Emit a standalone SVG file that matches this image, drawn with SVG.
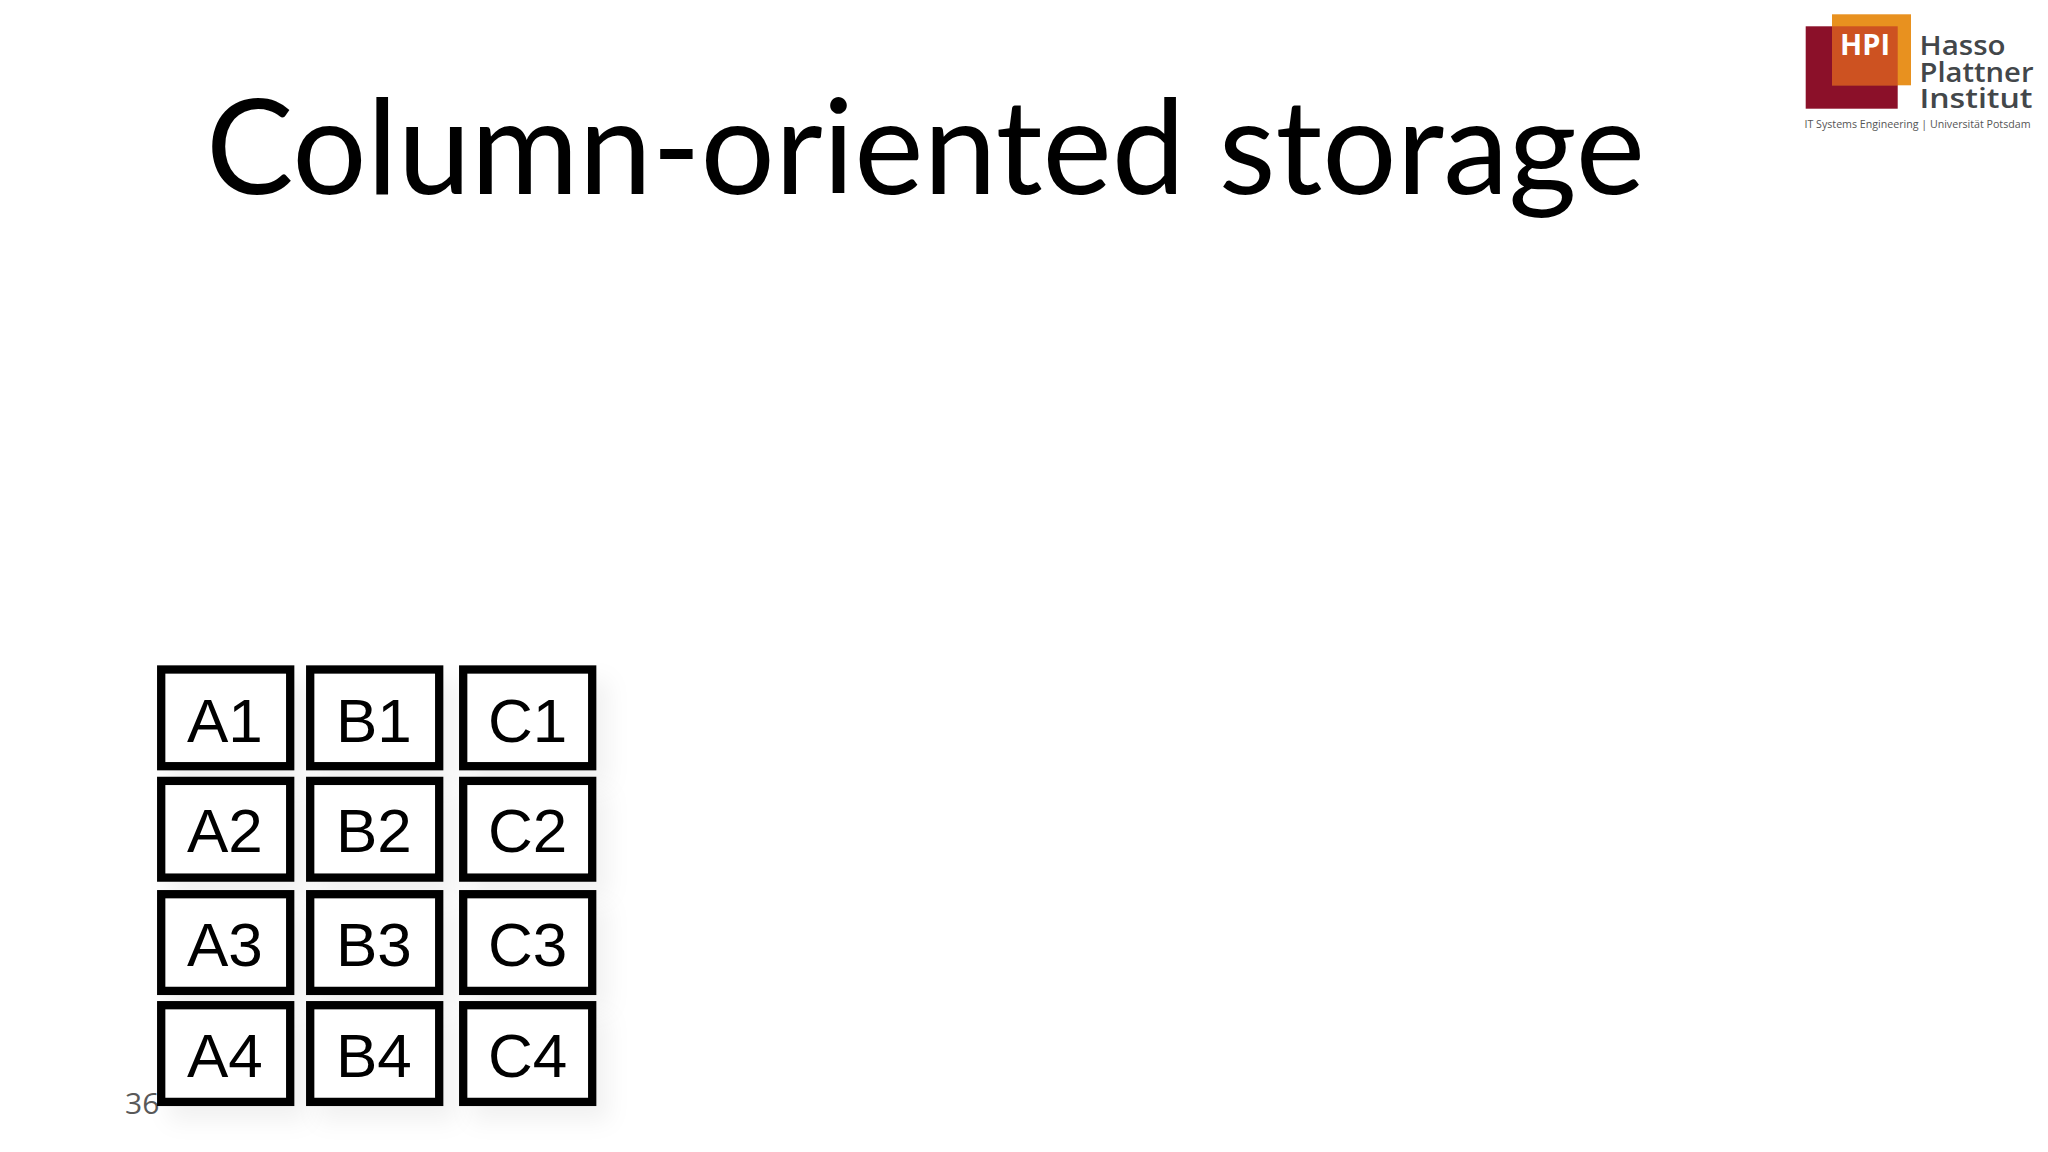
<svg xmlns="http://www.w3.org/2000/svg" width="2048" height="1152" viewBox="0 0 2048 1152">
<style>
.cell{fill:#fff;stroke:#000;stroke-width:8.3;filter:url(#sh)}
.lab{font-family:"Liberation Sans",Arial,sans-serif;font-size:62px;fill:#000}
.logo{font-family:"Open Sans","Noto Sans",sans-serif;font-weight:600;fill:#43474a;font-size:27px}
</style>
<defs>
<filter id="sh" x="-30%" y="-30%" width="170%" height="170%">
<feDropShadow dx="12" dy="15" stdDeviation="11" flood-color="#000" flood-opacity="0.055"/>
</filter>
</defs>
<rect width="2048" height="1152" fill="#fff"/>
<text id="title" x="206" y="194" textLength="1439" lengthAdjust="spacingAndGlyphs" font-family="Lato,'Open Sans',sans-serif" font-size="131" fill="#000">Column-oriented storage</text>
<g id="logo">
<rect x="1805.7" y="26.3" width="92" height="82.4" fill="#8b1029"/>
<rect x="1832" y="14.3" width="79" height="71" fill="#e8911f"/>
<rect x="1832" y="26.3" width="65.7" height="59" fill="#cd5221"/>
<text x="1840" y="55.3" textLength="50" lengthAdjust="spacingAndGlyphs" font-family="'Open Sans',sans-serif" font-weight="700" font-size="28" fill="#fff">HPI</text>
<text class="logo" x="1919.5" y="55" textLength="86" lengthAdjust="spacingAndGlyphs">Hasso</text>
<text class="logo" x="1919.5" y="81.7" textLength="114" lengthAdjust="spacingAndGlyphs">Plattner</text>
<text class="logo" x="1919.5" y="108.3" textLength="113" lengthAdjust="spacingAndGlyphs">Institut</text>
<text x="1804.5" y="127.7" textLength="226" lengthAdjust="spacingAndGlyphs" font-family="'Open Sans',sans-serif" font-size="11.5" fill="#555">IT Systems Engineering | Universität Potsdam</text>
</g>
<text id="page-number" x="125" y="1114" font-family="'Open Sans',sans-serif" font-size="30" fill="#595959">36</text>
<g id="connectors"></g>
<g id="cell-A1"><rect class="cell" x="161.2" y="669.5" width="129" height="96.7"/><text class="lab" x="187" y="741.7">A1</text></g>
<g id="cell-B1"><rect class="cell" x="310.2" y="669.5" width="129" height="96.7"/><text class="lab" x="336" y="741.7">B1</text></g>
<g id="cell-C1"><rect class="cell" x="463.2" y="669.5" width="129" height="96.7"/><text class="lab" x="488" y="741.7">C1</text></g>
<g id="cell-A2"><rect class="cell" x="161.2" y="780.9" width="129" height="96.7"/><text class="lab" x="187" y="852.3">A2</text></g>
<g id="cell-B2"><rect class="cell" x="310.2" y="780.9" width="129" height="96.7"/><text class="lab" x="336" y="852.3">B2</text></g>
<g id="cell-C2"><rect class="cell" x="463.2" y="780.9" width="129" height="96.7"/><text class="lab" x="488" y="852.3">C2</text></g>
<g id="cell-A3"><rect class="cell" x="161.2" y="894.2" width="129" height="96.7"/><text class="lab" x="187" y="965.7">A3</text></g>
<g id="cell-B3"><rect class="cell" x="310.2" y="894.2" width="129" height="96.7"/><text class="lab" x="336" y="965.7">B3</text></g>
<g id="cell-C3"><rect class="cell" x="463.2" y="894.2" width="129" height="96.7"/><text class="lab" x="488" y="965.7">C3</text></g>
<g id="cell-A4"><rect class="cell" x="161.2" y="1005.2" width="129" height="96.7"/><text class="lab" x="187" y="1077">A4</text></g>
<g id="cell-B4"><rect class="cell" x="310.2" y="1005.2" width="129" height="96.7"/><text class="lab" x="336" y="1077">B4</text></g>
<g id="cell-C4"><rect class="cell" x="463.2" y="1005.2" width="129" height="96.7"/><text class="lab" x="488" y="1077">C4</text></g>
</svg>
